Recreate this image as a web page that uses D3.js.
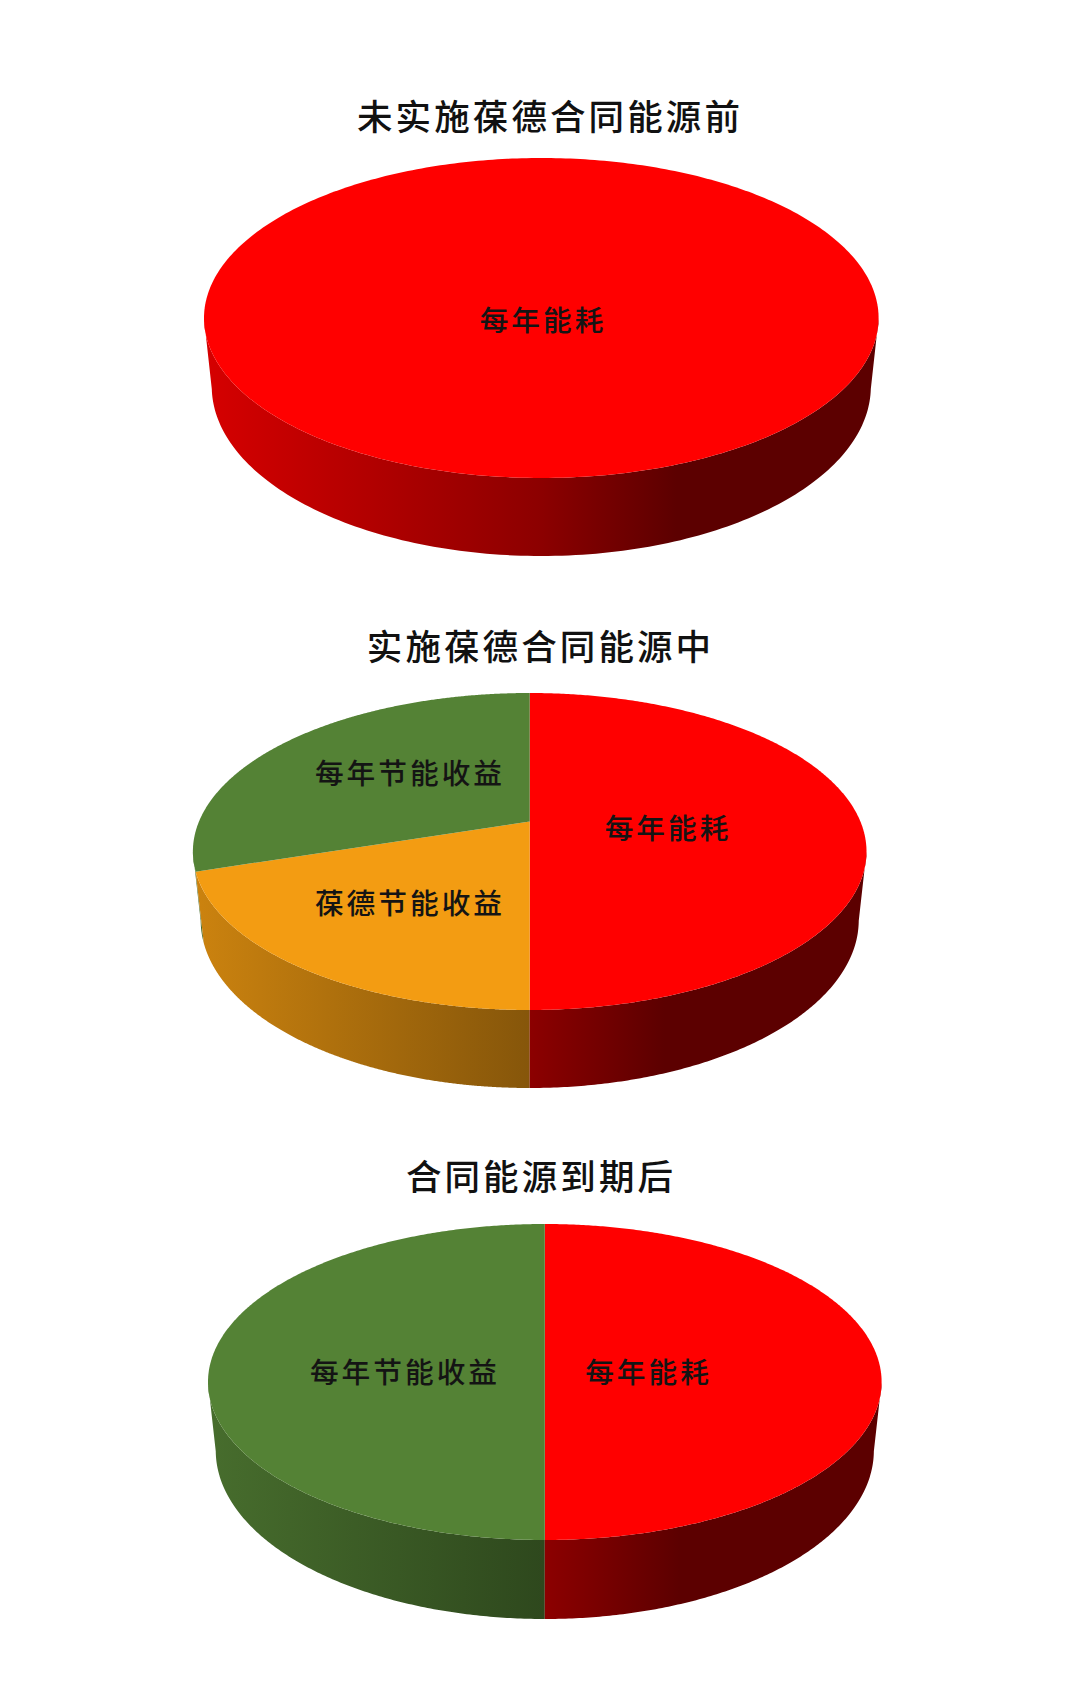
<!DOCTYPE html>
<html><head><meta charset="utf-8">
<style>html,body{margin:0;padding:0;background:#fff}svg{display:block}text{font-family:"Noto Sans CJK SC","Noto Sans",sans-serif}</style>
<script src="https://cdn.jsdelivr.net/npm/d3@7"></script>
</head><body>
<script>
// ---- data ----
const titles = ["未实施葆德合同能源前", "实施葆德合同能源中", "合同能源到期后"];
const pie1Labels = ["每年能耗"];
const pie1Values = [100];
const pie2Labels = ["每年能耗", "葆德节能收益", "每年节能收益"];
const pie2Values = [50, 20, 30];
const pie3Labels = ["每年能耗", "每年节能收益"];
const pie3Values = [50, 50];
// ---- colours ----
const sliceColor = {"每年能耗": "#ff0000", "葆德节能收益": "#f39c12", "每年节能收益": "#548235"};
// ---- layout ----
const W = 1080, H = 1688;
const layout = [
  {cx: 541.3, cy: 318, rx: 337.3, ry: 160, depth: 78, titleX: 550, titleY: 114.5, labelPos: [[543, 318.5]]},
  {cx: 529.7, cy: 851.5, rx: 336.8, ry: 158.5, depth: 78, titleX: 540.5, titleY: 644.5, labelPos: [[668, 826.5], [410, 901.5], [410, 771.5]]},
  {cx: 544.8, cy: 1382, rx: 336.8, ry: 158, depth: 79, titleX: 541, titleY: 1174.5, labelPos: [[648.5, 1370.5], [405, 1370.5]]}
];
const apexOffset = -30;       // perspective shift of the pie's centre
const wallRx = 0.977, wallCy = 68.5, wallApex = -30;
const shade = d3.scaleLinear().domain([0, 0.5, 0.7, 1]).range([0.84, 0.55, 0.36, 0.36]);

const svg = d3.select("body").append("svg").attr("width", W).attr("height", H).attr("viewBox", `0 0 ${W} ${H}`);
const defs = svg.append("defs");
const pieGen = d3.pie().sort(null).value(d => d);
const line = d3.line();

// perspective projection of the pie's unit circle on to an ellipse
function projector(cx, cy, rx, ry, c) {
  const k = -c / ry, a = rx * Math.sqrt(1 - k * k);
  return th => {
    const X = Math.sin(th), Y = -Math.cos(th), d = 1 - k * Y;
    return [cx + a * X / d, cy + (ry * Y + c) / d];
  };
}
const samples = (a0, a1) => d3.range(0, 361).map(i => d3.scaleLinear().domain([0, 360]).range([a0, a1])(i));

const sets = [[pie1Labels, pie1Values], [pie2Labels, pie2Values], [pie3Labels, pie3Values]];
sets.forEach(([labels, values], p) => {
  const L = layout[p];
  const top = projector(L.cx, L.cy, L.rx, L.ry, apexOffset);
  const wCy = L.cy + wallCy;
  const bottom = projector(L.cx, wCy, L.rx * wallRx, L.ry + L.depth - wallCy, wallApex);
  const g = svg.append("g");
  const arcs = pieGen(values);
  const xLeft = L.cx - L.rx, xRight = L.cx + L.rx;

  // wall of each slice: front half of the rim joined to front half of the base
  arcs.map((d, i) => [d, i]).reverse().forEach(([d, i]) => {
    const col = sliceColor[labels[i]];
    const id = `wall-${p}-${i}`;
    const grad = defs.append("linearGradient").attr("id", id).attr("gradientUnits", "userSpaceOnUse")
      .attr("x1", xLeft).attr("x2", xRight).attr("y1", 0).attr("y2", 0);
    shade.domain().forEach(t => {
      const c = d3.rgb(col), f = shade(t);
      grad.append("stop").attr("offset", t).attr("stop-color", d3.rgb(c.r * f, c.g * f, c.b * f).formatHex());
    });
    const angs = samples(d.startAngle, d.endAngle);
    const rimFront = angs.map(top).filter(q => q[1] >= L.cy);
    const baseFront = angs.slice().reverse().map(bottom).filter(q => q[1] >= wCy);
    g.append("path").attr("d", line(rimFront.concat(baseFront)) + "Z").attr("fill", `url(#${id})`);
  });
  arcs.forEach((d, i) => {
    const col = sliceColor[labels[i]];
    const rim = samples(d.startAngle, d.endAngle).map(top);
    const apex = [L.cx, L.cy + apexOffset];
    const pts = values.length > 1 ? [apex].concat(rim) : rim;
    g.append("path").attr("d", line(pts) + "Z").attr("fill", col);
  });
  arcs.forEach((d, i) => {
    g.append("text").text(labels[i])
      .attr("x", L.labelPos[i][0]).attr("y", L.labelPos[i][1])
      .attr("text-anchor", "middle").attr("dominant-baseline", "central")
      .attr("font-size", 28.7).attr("font-weight", 500).attr("letter-spacing", 3).attr("fill", "#141414");
  });
  svg.append("text").text(titles[p])
    .attr("x", L.titleX).attr("y", L.titleY)
    .attr("text-anchor", "middle").attr("dominant-baseline", "central")
    .attr("font-size", 35.5).attr("font-weight", 500).attr("letter-spacing", 3.1).attr("fill", "#111");
});
</script>
</body></html>
